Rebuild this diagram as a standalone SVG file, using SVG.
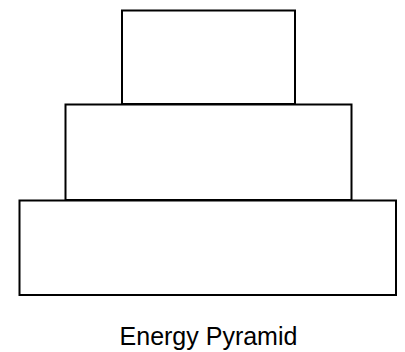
<svg xmlns="http://www.w3.org/2000/svg" width="405" height="352" viewBox="0 0 405 352">
<style>
.tier{fill:#ffffff;stroke:#000000;stroke-width:2}
.lbl{font-family:"Liberation Sans",Arial,sans-serif;font-size:25px;fill:#000000;text-anchor:middle}
</style>
<rect width="405" height="352" fill="#ffffff"/>
<g id="connectors"></g>
<g id="tier-top"><rect class="tier" x="122" y="10.5" width="173" height="93.5"/></g>
<g id="tier-middle"><rect class="tier" x="65.5" y="104.5" width="286" height="95.5"/></g>
<g id="tier-bottom"><rect class="tier" x="19.5" y="200.5" width="376.5" height="94.5"/></g>
<g id="title"><text class="lbl" x="208.5" y="345">Energy Pyramid</text></g>
</svg>
